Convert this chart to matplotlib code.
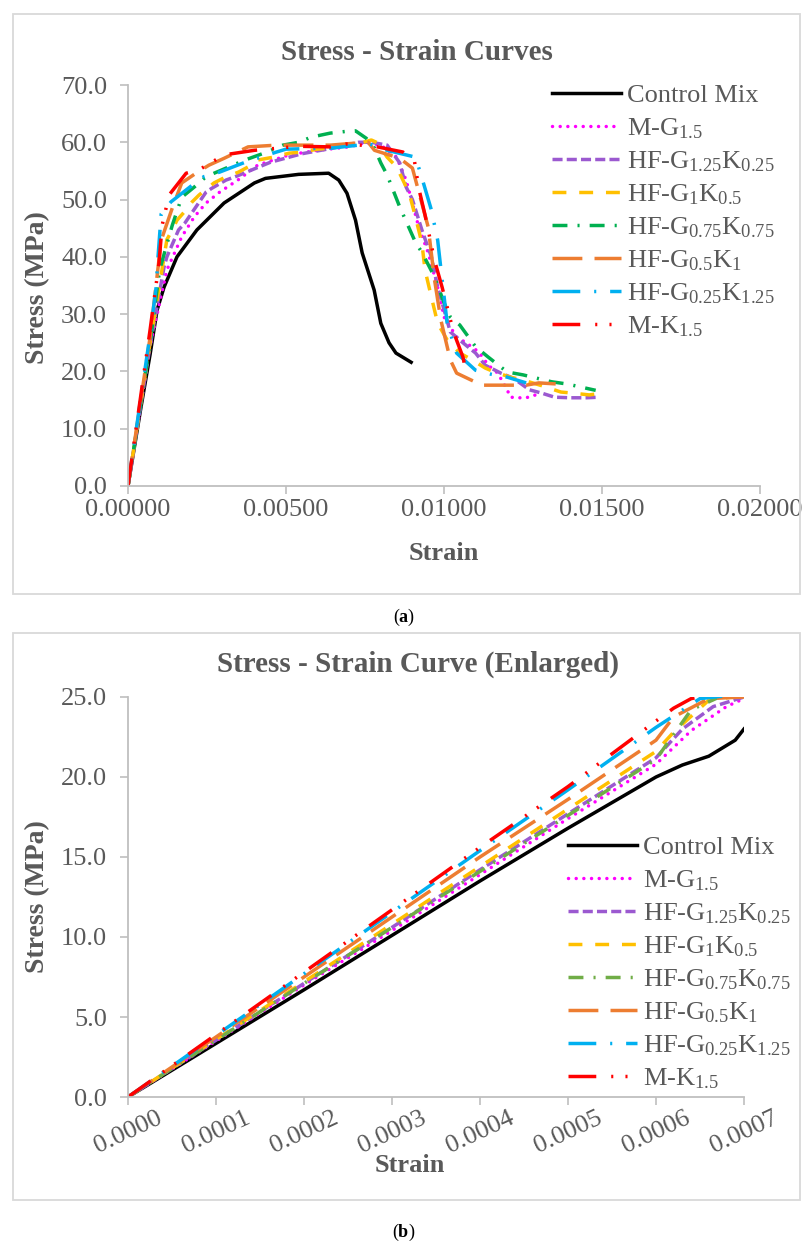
import matplotlib
matplotlib.use("Agg")
import matplotlib.pyplot as plt
from matplotlib.patches import Rectangle

plt.rcParams['font.family'] = ['Liberation Serif', 'DejaVu Serif']
plt.rcParams['mathtext.fontset'] = 'custom'
plt.rcParams['mathtext.rm'] = 'Liberation Serif'
plt.rcParams['mathtext.it'] = 'Liberation Serif:italic'
plt.rcParams['mathtext.bf'] = 'Liberation Serif:bold'

W, H = 807, 1246
GREY = '#595959'
AXIS_GREY = '#bfbfbf'

# ---------------- series labels / styles ----------------
labels = ['Control Mix', 'M-G$_{1.5}$', 'HF-G$_{1.25}$K$_{0.25}$', 'HF-G$_{1}$K$_{0.5}$',
          'HF-G$_{0.75}$K$_{0.75}$', 'HF-G$_{0.5}$K$_{1}$', 'HF-G$_{0.25}$K$_{1.25}$', 'M-K$_{1.5}$']
colors_a = ['#000000', '#FF00FF', '#9B59D0', '#FFC000', '#00B050', '#ED7D31', '#00B0F0', '#FF0000']
colors_b = ['#000000', '#FF00FF', '#9B59D0', '#FFC000', '#70AD47', '#ED7D31', '#00B0F0', '#FF0000']
dashes = ['-', (0, (0.01, 2.2)), (0, (2.9, 1.2)), (0, (4, 3.7)), (0, (4.3, 2.9, 0.6, 2.9)),
          (0, (8.6, 3.5)), (0, (8, 4, 0.6, 4)), (0, (8, 4.3, 0.6, 3.5, 0.6, 4.3))]

# ---------------- panel (a): full curves ----------------
strain_ctrl = [0, 0.0004, 0.0007, 0.00082, 0.00092, 0.00114, 0.00155, 0.00218, 0.00304, 0.0040,
               0.00435, 0.0054, 0.00635, 0.00667, 0.00693, 0.0072, 0.00741, 0.00779, 0.0080,
               0.00826, 0.00848, 0.00896]
stress_ctrl = [0, 13.4, 23.0, 27.2, 30.7, 34.7, 40.0, 44.7, 49.4, 52.9, 53.7, 54.4, 54.6, 53.4,
               51.1, 46.4, 40.7, 34.2, 28.4, 25.0, 23.2, 21.6]

strain_mg = [0, 0.0007, 0.00123, 0.0017, 0.0021, 0.00247, 0.0029, 0.0035, 0.0041, 0.0051, 0.006,
             0.007, 0.0075, 0.008, 0.0085, 0.0088, 0.009, 0.0092, 0.0095, 0.0098, 0.01, 0.0104,
             0.0107, 0.0111, 0.0114, 0.0117, 0.012, 0.0121, 0.0124, 0.0126, 0.0129]
stress_mg = [0, 24.5, 37.7, 43.5, 47.0, 49.4, 51.3, 53.5, 56.0, 57.8, 58.6, 59.2, 59.9, 59.5,
             57.4, 53.4, 49.4, 45.2, 40.7, 34.7, 29.5, 26.0, 25.0, 23.4, 21.1, 19.7, 16.8, 15.5,
             15.4, 15.4, 15.9]

strain_g125 = [0, 0.0007, 0.00114, 0.00123, 0.0016, 0.0018, 0.00247, 0.00266, 0.0031, 0.0034,
               0.0045, 0.0055, 0.0065, 0.0073, 0.0077, 0.0082, 0.0086, 0.0088, 0.009, 0.0093,
               0.0096, 0.0098, 0.0102, 0.0106, 0.011, 0.0113, 0.0118, 0.0122, 0.0127, 0.0131,
               0.0135, 0.014, 0.0145, 0.0149]
stress_g125 = [0, 24.5, 38.2, 40.0, 44.7, 45.9, 51.3, 52.0, 53.4, 54.0, 56.5, 58.0, 59.0, 60.0,
               60.0, 59.5, 56.4, 52.2, 50.0, 44.7, 40.0, 34.7, 26.9, 25.0, 23.2, 21.1, 19.7,
               18.8, 16.8, 16.2, 15.5, 15.4, 15.4, 15.5]

strain_g1 = [0, 0.0007, 0.00123, 0.0014, 0.00155, 0.00184, 0.00203, 0.00225, 0.00272, 0.00304,
             0.0035, 0.0039, 0.0041, 0.0046, 0.0051, 0.0055, 0.006, 0.0064, 0.0072, 0.0077,
             0.0079, 0.0082, 0.0085, 0.0087, 0.0089, 0.0091, 0.0093, 0.0094, 0.0096, 0.0098,
             0.0101, 0.0105, 0.0109, 0.0113, 0.0116, 0.0121, 0.0125, 0.0131, 0.0137, 0.0141,
             0.0146, 0.015]
stress_g1 = [0, 25.0, 43.0, 44.7, 46.4, 48.2, 49.6, 50.8, 52.9, 53.8, 54.8, 56.0, 56.9, 57.4,
             58.1, 58.3, 58.8, 59.0, 59.6, 60.4, 59.9, 57.4, 55.7, 53.4, 51.1, 46.9, 42.4,
             37.7, 33.0, 28.4, 25.5, 23.2, 22.0, 20.6, 19.9, 19.0, 18.5, 17.5, 16.4, 16.2,
             15.9, 16.2]

strain_g075 = [0, 0.0007, 0.001, 0.0014, 0.0017, 0.0021, 0.00247, 0.0037, 0.0044, 0.0049,
               0.0054, 0.0058, 0.0064, 0.0069, 0.0072, 0.00754, 0.0078, 0.008, 0.0082, 0.0086,
               0.0091, 0.0093, 0.0097, 0.01, 0.0102, 0.0105, 0.011, 0.0114, 0.012, 0.0125,
               0.0134, 0.0139, 0.0148]
stress_g075 = [0, 25.0, 37.7, 45.5, 50.4, 52.2, 54.0, 56.9, 58.3, 59.5, 60.0, 60.9, 61.6, 61.9,
               62.0, 60.7, 59.0, 56.4, 54.3, 48.7, 42.5, 40.8, 36.5, 32.0, 29.5, 28.1, 24.3,
               22.5, 19.9, 19.4, 18.2, 17.8, 16.7]

strain_g05 = [0, 0.0007, 0.00105, 0.0014, 0.0017, 0.00215, 0.00256, 0.00304, 0.0038, 0.0047,
              0.0064, 0.0073, 0.0076, 0.0078, 0.0086, 0.009, 0.0095, 0.0097, 0.0099, 0.0102,
              0.0104, 0.0112, 0.0116, 0.0126, 0.013, 0.0136]
stress_g05 = [0, 26.0, 42.9, 48.5, 52.9, 54.6, 56.0, 57.2, 59.2, 59.5, 59.5, 59.9, 60.0, 58.6,
              57.2, 55.5, 45.2, 36.0, 29.0, 22.0, 19.7, 17.6, 17.6, 17.6, 18.0, 17.8]

strain_g025 = [0, 0.0007, 0.00089, 0.00095, 0.00105, 0.00136, 0.00203, 0.0024, 0.0029, 0.0037,
               0.0047, 0.005, 0.00646, 0.0073, 0.0076, 0.0082, 0.0091, 0.00937, 0.0096, 0.0098,
               0.0099, 0.0101, 0.0104, 0.011, 0.0115, 0.012, 0.0126]
stress_g025 = [0, 26.5, 34.7, 40.0, 47.5, 49.6, 52.5, 54.0, 54.8, 56.5, 58.3, 58.8, 59.0, 59.5,
               59.8, 58.6, 57.4, 52.5, 48.2, 42.9, 38.0, 28.4, 23.2, 20.2, 19.5, 19.0, 18.0]

strain_k15 = [0, 0.0007, 0.00098, 0.00108, 0.0013, 0.00184, 0.00228, 0.00304, 0.004, 0.0054,
              0.0064, 0.0069, 0.0078, 0.0087, 0.00906, 0.0092, 0.0094, 0.0097, 0.00994, 0.0103,
              0.0106, 0.0107]
stress_k15 = [0, 27.3, 38.9, 45.5, 50.8, 54.6, 55.3, 57.8, 58.6, 59.3, 59.2, 59.7, 59.3, 58.3,
              56.9, 52.0, 47.3, 39.4, 34.7, 26.9, 22.5, 19.9]

strains_a = [strain_ctrl, strain_mg, strain_g125, strain_g1, strain_g075, strain_g05, strain_g025, strain_k15]
stresses_a = [stress_ctrl, stress_mg, stress_g125, stress_g1, stress_g075, stress_g05, stress_g025, stress_k15]

# ---------------- panel (b): enlarged initial part ----------------
eb_ctrl = [0, 0.0001, 0.0002, 0.0003, 0.0004, 0.0005, 0.0006, 0.00063, 0.00066, 0.00069, 0.0007]
sb_ctrl = [0, 3.35, 6.7, 10.1, 13.5, 16.8, 20.0, 20.75, 21.3, 22.3, 23.0]
eb_mg = [0, 0.0001, 0.0002, 0.0003, 0.0004, 0.0005, 0.0006, 0.00064, 0.00068, 0.0007]
sb_mg = [0, 3.5, 7.0, 10.4, 13.9, 17.4, 20.8, 22.9, 24.4, 24.9]
eb_g125 = [0, 0.0001, 0.0002, 0.0003, 0.0004, 0.0005, 0.0006, 0.00063, 0.000665, 0.0007]
sb_g125 = [0, 3.55, 7.1, 10.6, 14.2, 17.7, 21.2, 23.0, 24.4, 25.0]
eb_g1 = [0, 0.0001, 0.0002, 0.0003, 0.0004, 0.0005, 0.0006, 0.00062, 0.00066, 0.0007]
sb_g1 = [0, 3.6, 7.2, 10.8, 14.4, 18.0, 21.6, 22.8, 24.8, 25.1]
eb_g075 = [0, 0.0001, 0.0002, 0.0003, 0.0004, 0.0005, 0.0006, 0.00064, 0.00068]
sb_g075 = [0, 3.55, 7.1, 10.6, 14.1, 17.6, 21.1, 24.2, 25.2]
eb_g05 = [0, 0.0001, 0.0002, 0.0003, 0.0004, 0.0005, 0.0006, 0.00062, 0.00066, 0.0007]
sb_g05 = [0, 3.75, 7.5, 11.25, 15.0, 18.6, 22.3, 23.75, 24.9, 25.0]
eb_g025 = [0, 0.0001, 0.0002, 0.0003, 0.0004, 0.0005, 0.0006, 0.00065, 0.0007]
sb_g025 = [0, 3.85, 7.7, 11.55, 15.4, 19.2, 23.1, 24.9, 25.2]
eb_k15 = [0, 0.0001, 0.0002, 0.0003, 0.0004, 0.0005, 0.0006, 0.00062, 0.00064, 0.00066]
sb_k15 = [0, 3.9, 7.8, 11.7, 15.6, 19.4, 23.5, 24.3, 24.9, 25.1]

strains_b = [eb_ctrl, eb_mg, eb_g125, eb_g1, eb_g075, eb_g05, eb_g025, eb_k15]
stresses_b = [sb_ctrl, sb_mg, sb_g125, sb_g1, sb_g075, sb_g05, sb_g025, sb_k15]

xticks_a = [0, 0.005, 0.010, 0.015, 0.020]
yticks_a = [0, 10, 20, 30, 40, 50, 60, 70]
xticks_b = [0, 0.0001, 0.0002, 0.0003, 0.0004, 0.0005, 0.0006, 0.0007]
yticks_b = [0, 5, 10, 15, 20, 25]

# ---------------- figure ----------------
fig = plt.figure(figsize=(W / 100, H / 100), dpi=100)

# chart-area boxes
for top, bottom in [(14, 594), (633, 1200)]:
    fig.add_artist(Rectangle((13 / W, 1 - bottom / H), (800 - 13) / W, (bottom - top) / H,
                             transform=fig.transFigure, fill=False, ec='#d9d9d9', lw=1.3))


def style_axes(ax):
    for side in ['top', 'right']:
        ax.spines[side].set_visible(False)
    for side in ['left', 'bottom']:
        ax.spines[side].set_color(AXIS_GREY)
        ax.spines[side].set_linewidth(1.3)
    ax.tick_params(axis='both', direction='out', length=6, width=1.2, color=AXIS_GREY,
                   labelcolor=GREY, labelsize=19)
    ax.tick_params(axis='y', pad=9)


def add_legend(ax, x0, y_top):
    leg = ax.legend(loc='upper left', bbox_to_anchor=(x0 / W, 1 - y_top / H),
                    bbox_transform=fig.transFigure, frameon=False, fontsize=19,
                    handlelength=2.6, handletextpad=0.25, labelspacing=0.32,
                    borderpad=0, borderaxespad=0)
    for t in leg.get_texts():
        t.set_color(GREY)


# ---- (a) ----
ax1 = fig.add_axes([128 / W, 1 - 486 / H, 632 / W, 401 / H])
for i in range(len(labels)):
    ax1.plot(strains_a[i], stresses_a[i], color=colors_a[i], lw=2.5, linestyle=dashes[i],
             dash_capstyle='round' if i == 1 else 'butt', label=labels[i])
ax1.set_xlim(0, 0.02)
ax1.set_ylim(0, 70)
ax1.set_xticks(xticks_a)
ax1.set_xticklabels([f'{v:.5f}' for v in xticks_a])
ax1.set_yticks(yticks_a)
ax1.set_yticklabels([f'{v:.1f}' for v in yticks_a])
style_axes(ax1)
add_legend(ax1, 552, 84)

fig.text(417 / W, 1 - 53 / H, 'Stress - Strain Curves', ha='center', va='center',
         fontsize=21, fontweight='bold', color=GREY)
fig.text(444 / W, 1 - 553 / H, 'Strain', ha='center', va='center',
         fontsize=19, fontweight='bold', color=GREY)
fig.text(38 / W, 1 - 288 / H, 'Stress (MPa)', ha='center', va='center', rotation=90,
         fontsize=20, fontweight='bold', color=GREY)
fig.text(404 / W, 1 - 617 / H, r'($\mathbf{a}$)', ha='center', va='center',
         fontsize=13, color='black')

# ---- (b) ----
ax2 = fig.add_axes([128 / W, 1 - 1097 / H, 616 / W, 400 / H])
for i in range(len(labels)):
    ax2.plot(strains_b[i], stresses_b[i], color=colors_b[i], lw=2.5, linestyle=dashes[i],
             dash_capstyle='round' if i == 1 else 'butt', label=labels[i])
ax2.set_xlim(0, 0.0007)
ax2.set_ylim(0, 25)
ax2.set_xticks(xticks_b)
ax2.set_xticklabels([f'{v:.4f}' for v in xticks_b], rotation=25, ha='center', va='top')
ax2.set_yticks(yticks_b)
ax2.set_yticklabels([f'{v:.1f}' for v in yticks_b])
style_axes(ax2)
ax2.tick_params(axis='x', pad=1)
add_legend(ax2, 568, 836)

fig.text(418 / W, 1 - 664 / H, 'Stress - Strain Curve (Enlarged)', ha='center', va='center',
         fontsize=21, fontweight='bold', color=GREY)
fig.text(410 / W, 1 - 1165 / H, 'Strain', ha='center', va='center',
         fontsize=19, fontweight='bold', color=GREY)
fig.text(38 / W, 1 - 897 / H, 'Stress (MPa)', ha='center', va='center', rotation=90,
         fontsize=20, fontweight='bold', color=GREY)
fig.text(404 / W, 1 - 1232 / H, r'($\mathbf{b}$)', ha='center', va='center',
         fontsize=13, color='black')

fig.savefig('out.png', dpi=100, facecolor='white')
